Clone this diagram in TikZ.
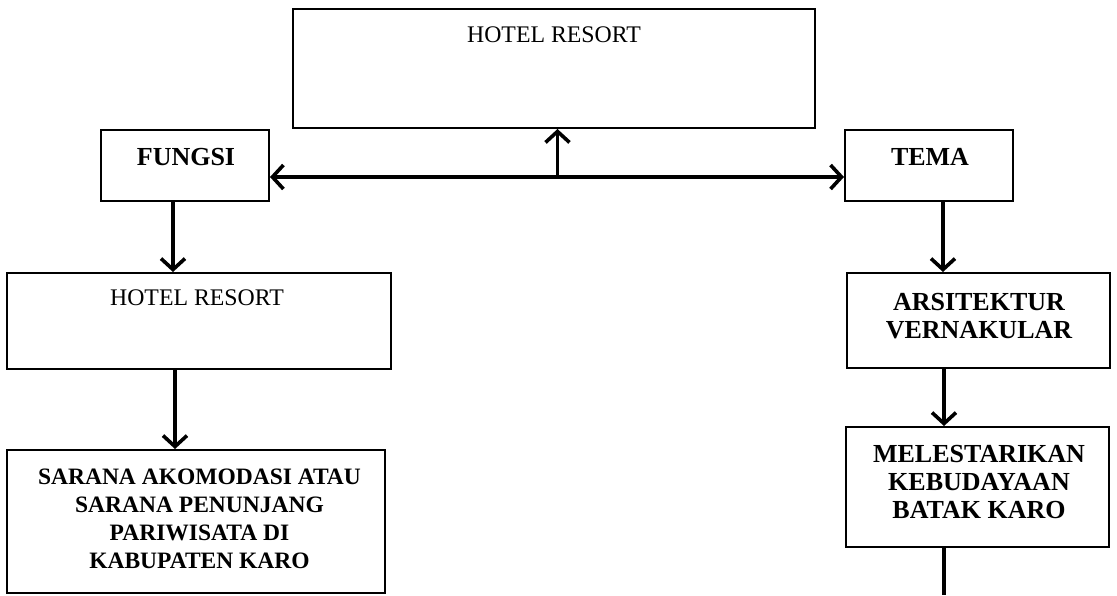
\documentclass[tikz,border=0pt]{standalone}
\usepackage{fontspec}
\setmainfont{Liberation Serif}
\usetikzlibrary{arrows.meta,calc}
\begin{document}
\begin{tikzpicture}[x=1pt,y=-1pt,
  box/.style={draw, line width=2pt, inner sep=0pt},
  lbl/.style={inner sep=0pt, align=center, font=\fontsize{23.8}{28}\selectfont},
  blbl/.style={inner sep=0pt, align=center, font=\fontsize{26}{28}\selectfont\bfseries},
  slbl/.style={inner sep=0pt, align=center, font=\fontsize{23.5}{28}\selectfont\bfseries},
  tip/.style={Straight Barb[length=11pt,width=24pt,line width=3.4pt]},
  conn/.style={line width=3.6pt, -{Straight Barb[length=11pt,width=24pt]}},
  biconn/.style={line width=3.6pt, {Straight Barb[length=11pt,width=24pt]}-{Straight Barb[length=11pt,width=24pt]}},
  plain/.style={line width=3.6pt}]
\useasboundingbox (0,0) rectangle (1117,595);
% boxes
\node[box, minimum width=522pt, minimum height=119pt] (top) at (554,68.5) {};
\node[box, minimum width=168pt, minimum height=71pt] (fungsi) at (185,165.5) {};
\node[box, minimum width=168pt, minimum height=71pt] (tema) at (929,165.5) {};
\node[box, minimum width=384pt, minimum height=96pt] (hotel) at (199,321) {};
\node[box, minimum width=263pt, minimum height=95pt] (arsi) at (978.5,320.5) {};
\node[box, minimum width=378pt, minimum height=143pt] (sarana) at (196,521.5) {};
\node[box, minimum width=263pt, minimum height=120pt] (mel) at (977.5,487) {};
% texts
\node[lbl] (ttop) at (554,35) {HOTEL RESORT};
\node[blbl] (tfungsi) at (186,157.5) {FUNGSI};
\node[blbl] (ttema) at (930,156.5) {TEMA};
\node[lbl] (thotel) at (197,298) {HOTEL RESORT};
\node[blbl] (tarsi) at (979,316.5) {ARSITEKTUR\\VERNAKULAR};
\node[slbl] (tsarana) at (199.5,518.5) {SARANA AKOMODASI ATAU\\SARANA PENUNJANG\\PARIWISATA DI\\KABUPATEN KARO};
\node[blbl] (tmel) at (979,482) {MELESTARIKAN\\KEBUDAYAAN\\BATAK KARO};
% connectors
\coordinate (mid) at (557.5,177);
\coordinate (endm) at (944,595);
\draw[biconn] (fungsi.east |- mid) -- (tema.west |- mid);
\draw[conn] (mid) -- (top.south -| mid);
\draw[conn] ([xshift=-12pt]fungsi.south) -- ([xshift=-12pt]fungsi.south |- hotel.north);
\draw[conn] ([xshift=-24pt]hotel.south) -- ([xshift=-24pt]hotel.south |- sarana.north);
\draw[conn] ([xshift=14pt]tema.south) -- ([xshift=14pt]tema.south |- arsi.north);
\draw[conn] ([xshift=-34.5pt]arsi.south) -- ([xshift=-34.5pt]arsi.south |- mel.north);
\draw[plain] (mel.south -| endm) -- (endm);
\end{tikzpicture}
\end{document}
